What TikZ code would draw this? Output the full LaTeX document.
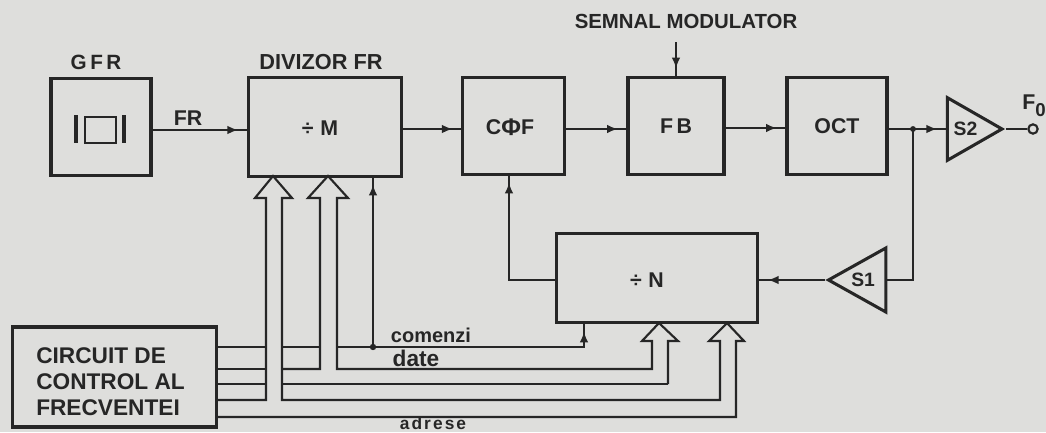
\documentclass[tikz,border=0pt]{standalone}
\usepackage{fontspec}
\setmainfont{Liberation Sans}
\usetikzlibrary{shapes.geometric,decorations.markings,arrows.meta}
\definecolor{paper}{HTML}{DEDEDC}
\definecolor{ink}{HTML}{262626}
\tikzset{
  x=0.75pt,y=-0.75pt,
  box/.style={draw=ink,line width=2.3pt,rectangle,inner sep=0pt,text=ink,font=\bfseries\fontsize{16}{18}\selectfont},
  lbl/.style={inner sep=0pt,text=ink,font=\bfseries\fontsize{15.5}{18}\selectfont},
  wire/.style={draw=ink,line width=1.6pt},
  flow/.style={wire,postaction={decorate},decoration={markings,mark=at position 1 with {\arrow[xshift=-6.5pt]{Latex[length=8pt,width=6.5pt]}}}},
  bus/.style={draw=ink,line width=1.6pt,line join=miter},
  tri/.style={draw=ink,line width=2.3pt,isosceles triangle,isosceles triangle stretches,inner sep=0pt,text=ink,font=\bfseries\fontsize{14.5}{16}\selectfont},
}
\begin{document}
\begin{tikzpicture}
\useasboundingbox (0,0) rectangle (1046,432);
\fill[paper] (0,0) rectangle (1046,432);

% blocks
\node[box,minimum width=75pt,minimum height=73pt] (gfr) at (101,127) {};
\node[box,minimum width=115pt,minimum height=74pt] (div) at (325,127) {};
\node[box,minimum width=76pt,minimum height=73pt] (cf) at (513.5,126) {};
\node[box,minimum width=72pt,minimum height=73pt] (fb) at (676,126) {F\,B};
\node[box,minimum width=75pt,minimum height=73pt] (oct) at (837,126) {OCT\hspace{9pt}};
\node[box,minimum width=151pt,minimum height=67pt] (n) at (657,278) {};
\node[box,minimum width=153pt,minimum height=75pt] (ctl) at (114.5,377) {};

% block texts
\node[lbl,font=\bfseries\fontsize{16}{18}\selectfont] (tm) at (320,128) {÷\hspace{5pt}M};
\node[lbl,font=\bfseries\fontsize{16}{18}\selectfont] (tn) at (647,280) {÷\hspace{5pt}N};
\node[lbl,font=\bfseries\fontsize{16}{18}\selectfont] (tcf) at (510,127) {C\raisebox{-0.5pt}{\fontsize{18}{18}\selectfont Φ}F};
\node[lbl,font=\bfseries\fontsize{17}{19.5}\selectfont,align=left,anchor=west] (tctl) at (36,382) {CIRCUIT DE\\CONTROL AL\\FRECVENTEI};

% amplifiers
\node[tri,minimum width=47pt,minimum height=41pt,anchor=apex] (s2) at (1006,129) {S2\hspace{-2pt}};
\node[tri,shape border rotate=180,minimum width=48pt,minimum height=43pt,anchor=apex] (s1) at (824.5,280) {\hspace{-9pt}S1};

% crystal symbol
\draw[ink,line width=2pt] (85,117) rectangle (116,143);
\draw[ink,line width=2.3pt] (76,115) -- (76,143);
\draw[ink,line width=2.3pt] (124,115) -- (124,143);

% labels
\node[lbl] (lgfr) at (96,62) {G\,F\,R};
\node[lbl,font=\bfseries\fontsize{16.3}{18}\selectfont] (ldiv) at (321,62) {DIVIZOR FR};
\node[lbl,font=\bfseries\fontsize{16}{18}\selectfont] (lfr) at (188,118) {FR};
\node[lbl,font=\bfseries\fontsize{15.3}{18}\selectfont] (lsem) at (686,21) {SEMNAL MODULATOR};
\node[lbl,font=\bfseries\fontsize{16}{18}\selectfont] (lfo) at (1034,106) {F\raisebox{-5pt}{\fontsize{14}{14}\selectfont 0}};
\node[lbl,font=\bfseries\fontsize{15}{17}\selectfont] (lcom) at (431,335) {comenzi};
\node[lbl,font=\bfseries\fontsize{17}{19}\selectfont] (ldate) at (416,358) {date};
\node[lbl,font=\bfseries\fontsize{13}{14}\addfontfeature{LetterSpace=12}\selectfont,anchor=base] (ladr) at (433,429) {adrese};

% coordinates
\coordinate (semtop) at (676,42);
\coordinate (fbtop) at (676,77);
\node[draw=ink,line width=1.6pt,circle,inner sep=0pt,minimum size=7pt] (out) at (1033,129) {};
\coordinate (j) at (913,129);
\coordinate (j2) at (913,280);
\coordinate (fbk) at (373,347);
\coordinate (divb) at (373,176);
\coordinate (com) at (584,347);
\coordinate (nb) at (584,323);

% signal path
\draw[flow] (gfr.east |- 0,130) -- (div.west |- 0,130);
\draw[flow] (div.east |- 0,129) -- (cf.west |- 0,129);
\draw[flow] (cf.east |- 0,129) -- (fb.west |- 0,129);
\draw[flow] (fb.east |- 0,128) -- (oct.west |- 0,128);
\draw[flow] (oct.east |- 0,129) -- (s2.west |- 0,129);
\draw[wire] (s2.apex) -- (out.west);
\draw[flow] (semtop) -- (fbtop);
\draw[wire] (j) -- (j2) -- (s1.east |- 0,280);
\draw[flow] (s1.apex) -- (n.east |- 0,280);
\draw[flow] (n.west |- 0,280) -- (509,280) -- (509,174);
\fill[ink] (j) circle (2.2pt);

% control lines
\draw[wire] (ctl.east |- 0,347) -- (266,347);
\draw[wire] (282,347) -- (320,347);
\draw[flow] (337,347) -- (fbk) -- (com) -- (nb);
\draw[flow] (fbk) -- (divb);
\fill[ink] (fbk) circle (2.4pt);
\draw[wire] (ctl.east |- 0,369) -- (266,369);
\draw[wire] (ctl.east |- 0,384) -- (266,384);
\draw[wire] (282,384) -- (668,384);

% hollow bus arrows
\draw[bus] (ctl.east |- 0,400) -- (266,400) -- (266,198) -- (255,198) -- (273,176) -- (292,198) -- (282,198) -- (282,400) -- (720,400) -- (720,341) -- (709,341) -- (727,323) -- (744,341) -- (736,341) -- (736,417) -- (ctl.east |- 0,417);
\draw[bus] (282,369) -- (320,369) -- (320,198) -- (308,198) -- (328,176) -- (348,198) -- (337,198) -- (337,369) -- (652,369) -- (652,341) -- (642,341) -- (659,323) -- (678,341) -- (668,341) -- (668,384);
\end{tikzpicture}
\end{document}
